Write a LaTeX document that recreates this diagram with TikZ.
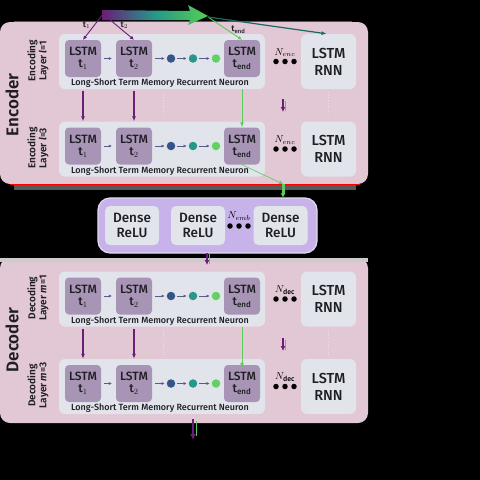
\documentclass[tikz,border=0pt]{standalone}
\usepackage{fontspec}
\setmainfont{Fira Sans}[UprightFont=* Medium, BoldFont=* SemiBold]
\usetikzlibrary{arrows.meta}
\definecolor{panelpink}{HTML}{E2C7D4}
\definecolor{layergray}{HTML}{E2E4EC}
\definecolor{lstmpurple}{HTML}{A895B6}
\definecolor{densepurple}{HTML}{C7B2EA}
\definecolor{denseedge}{HTML}{E4DAF6}
\definecolor{arrpurple}{HTML}{6B1E78}
\definecolor{arrgreen}{HTML}{5CCB5C}
\definecolor{dotblue}{HTML}{34558A}
\definecolor{dotteal}{HTML}{27978A}
\definecolor{dotgreen}{HTML}{62D062}
\definecolor{smallarr}{HTML}{5A5A8A}
\definecolor{txt}{HTML}{1E1E24}
\tikzset{
  panelbox/.style={fill=panelpink, rounded corners=10pt, inner sep=0pt},
  layerbox/.style={fill=layergray, rounded corners=6pt, inner sep=0pt, minimum width=206pt, minimum height=55pt},
  lstmbox/.style={fill=lstmpurple, rounded corners=4pt, inner sep=0pt, minimum width=36pt, minimum height=37pt, align=center, font=\fontsize{12}{13}\selectfont, text=txt},
  rnnbox/.style={fill=layergray, rounded corners=6pt, inner sep=0pt, minimum width=55pt, minimum height=55pt, align=center, font=\fontsize{14.5}{17}\selectfont, text=txt},
  densebox/.style={fill=layergray, rounded corners=5pt, inner sep=0pt, minimum width=54pt, minimum height=39pt, align=center, font=\fontsize{13.5}{15.5}\selectfont, text=txt},
  dotnode/.style={circle, inner sep=0pt, minimum size=8.5pt},
  blackdot/.style={circle, fill=black, inner sep=0pt, minimum size=5.5pt},
  tinyarr/.style={-{Latex[length=3pt,width=3pt]}, smallarr, line width=0.5pt},
  downpurple/.style={-{Latex[length=5pt,width=4pt]}, arrpurple, line width=1.2pt},
  downgreen/.style={-{Latex[length=5pt,width=4pt]}, arrgreen, line width=0.9pt},
  neurontxt/.style={font=\fontsize{9}{10}\selectfont, text=txt},
  layertxt/.style={rotate=90, align=center, font=\bfseries\fontsize{10}{11}\selectfont, text=txt},
  bigtxt/.style={rotate=90, font=\bfseries\fontsize{17}{19}\selectfont, text=txt},
}
\newcommand{\lstmrow}[4]{%
  \node[layerbox] (#1box) at (162,#2+3) {};
  \node[lstmbox] (#1a) at (83,#2) {LSTM\\[-1pt]t$_1$};
  \node[lstmbox] (#1b) at (134,#2) {LSTM\\[-1pt]t$_2$};
  \node[lstmbox] (#1e) at (242,#2) {LSTM\\[-1pt]t$_{\mathrm{end}}$};
  \node[dotnode, fill=dotblue] (#1d1) at (171,#2) {};
  \node[dotnode, fill=dotteal] (#1d2) at (193,#2) {};
  \node[dotnode, fill=dotgreen] (#1d3) at (216,#2) {};
  \draw[tinyarr] ([xshift=3pt]#1a.east) -- ([xshift=-4pt]#1b.west);
  \draw[tinyarr] ([xshift=3pt]#1b.east) -- ([xshift=-2pt]#1d1.west);
  \draw[tinyarr] ([xshift=2pt]#1d1.east) -- ([xshift=-2pt]#1d2.west);
  \draw[tinyarr] ([xshift=2pt]#1d2.east) -- ([xshift=-2pt]#1d3.west);
  \node[neurontxt] (#1lab) at (160,#2+25) {Long-Short Term Memory Recurrent Neuron};
  \node[rnnbox] (#1rnn) at (328.5,#2+3) {LSTM\\RNN};
  \node (#1n) at (285,#2-6) {#4};
  \node[blackdot] (#1k1) at (276,#2+3) {};
  \node[blackdot] (#1k2) at (285,#2+3) {};
  \node[blackdot] (#1k3) at (294,#2+3) {};
  \node[layertxt] (#1lt) at (38,#2+2) {#3};
}
\begin{document}
\begin{tikzpicture}[x=1pt,y=-1pt]
\fill[black] (0,0) rectangle (480,480);
\useasboundingbox (0,0) rectangle (480,480);

% panels
\node[panelbox, minimum width=368pt, minimum height=162pt] (enc) at (184,103) {};
\node[panelbox, minimum width=368pt, minimum height=165pt] (dec) at (184,340.5) {};
\draw[magenta, line width=1.2pt] (14,21.5) -- (352,21.5);
\fill[black!65] (14,185) rectangle (356,190);
\draw[red, line width=1.2pt] (10,184.5) -- (360,184.5);
\fill[black!20] (0,258) rectangle (368,262);
\node[bigtxt] (enct) at (12,105) {Encoder};
\node[bigtxt] (dect) at (12,340) {Decoder};

% encoder rows
\lstmrow{ea}{58.5}{Encoding\\Layer \textit{l}=1}{$N_{enc}$}
\lstmrow{eb}{146}{Encoding\\Layer \textit{l}=3}{$N_{enc}$}
% decoder rows
\lstmrow{da}{296}{Decoding\\Layer \textit{m}=1}{$N_{\mathrm{dec}}$}
\lstmrow{db}{383.5}{Decoding\\Layer \textit{m}=3}{$N_{\mathrm{dec}}$}

% faint dotted separators
\foreach \ya/\yb in {92/116, 330/356}{
  \draw[white!35!panelpink, dotted, line width=0.7pt] (163,\ya) -- (163,\yb);
  \draw[white!35!panelpink, dotted, line width=0.7pt] (328,\ya) -- (328,\yb);
}

% inter-layer arrows encoder
\draw[downpurple] (eaa.south |- ealab.south) -- (eba.north |- ebbox.north);
\draw[downpurple] (eab.south |- ealab.south) -- (ebb.north |- ebbox.north);
\draw[downgreen] ([yshift=2pt]eae.south |- ealab.south) -- (ebe.north);
\draw[-{Latex[length=5pt,width=5pt]}, arrpurple, line width=1.8pt] (283,99) coordinate (sa1) -- (283,112) coordinate (sa2);
\draw[arrgreen, line width=0.6pt] (285,101) -- (285,111);

% decoder arrows
\draw[downpurple] (daa.south |- dalab.south) -- (dba.north |- dbbox.north);
\draw[downpurple] (dab.south |- dalab.south) -- (dbb.north |- dbbox.north);
\draw[downgreen] ([yshift=2pt]dae.south |- dalab.south) -- ([yshift=-3pt]dbe.north);
\draw[-{Latex[length=5pt,width=5pt]}, arrpurple, line width=1.8pt] (283,338) coordinate (sb1) -- (283,351) coordinate (sb2);
\draw[arrgreen, line width=0.6pt] (285,340) -- (285,350);

% dense panel
\node[fill=densepurple, draw=denseedge, line width=1.2pt, rounded corners=12pt, minimum width=219pt, minimum height=55pt, inner sep=0pt] (dense) at (207.5,225.5) {};
\node[densebox] (dr1) at (132,225.5) {Dense\\ReLU};
\node[densebox] (dr2) at (198,225.5) {Dense\\ReLU};
\node[densebox] (dr3) at (280.5,225.5) {Dense\\ReLU};
\node (nemb) at (239,216) {$N_{emb}$};
\node[blackdot] (em1) at (230,226) {};
\node[blackdot] (em2) at (239,226) {};
\node[blackdot] (em3) at (248,226) {};

% encoder -> dense
\coordinate (gout) at (283,184);
\draw[-{Latex[length=4pt,width=4pt]}, arrgreen, line width=0.6pt] (ebe.south) -- (gout);
\draw[-{Latex[length=4pt,width=5pt]}, arrgreen, line width=3pt] (gout) -- (dense.north -| gout);
% dense -> decoder
\coordinate (dd1) at (207,253);
\coordinate (dd2) at (207,265);
\draw[-{Latex[length=5pt,width=5pt]}, arrpurple, line width=2pt] (dd1) -- (dd2);
\draw[arrgreen, line width=1pt] (209,254) -- (209,264);
% output
\coordinate (out1) at (193,419);
\coordinate (outend) at (193,440);
\draw[-{Latex[length=6pt,width=6pt]}, arrpurple, line width=2pt] (out1) -- (outend);
\draw[arrgreen, line width=1pt] (196,421) -- (196,436);

% top gradient arrow
\shade[left color=arrpurple, right color=arrgreen!90!green, middle color=dotteal]
  (102,10) -- (190,11) -- (188,5) -- (208,16) -- (188,25) -- (190,20) -- (102,20) -- cycle;
\coordinate (src) at (103,14);
\coordinate (srcend) at (208,17);
\draw[-{Latex[length=4pt,width=4pt]}, arrpurple, line width=0.9pt] (src) -- (eaa.north) node[pos=0.45, left=0pt, font=\bfseries\fontsize{8.5}{9}\selectfont, text=txt] {t$_1$};
\draw[-{Latex[length=4pt,width=4pt]}, arrpurple, line width=0.9pt] (src) -- (eab.north) node[pos=0.45, right=0pt, font=\bfseries\fontsize{8.5}{9}\selectfont, text=txt] {t$_2$};
\draw[-{Latex[length=4pt,width=4pt]}, arrgreen, line width=0.9pt] (srcend) -- (eae.north) node[pos=0.55, right=1pt, font=\bfseries\fontsize{8.5}{9}\selectfont, text=txt] {t$_{\mathrm{end}}$};
\draw[-{Latex[length=5pt,width=4pt]}, dotteal!70!black, line width=1.2pt] (srcend) -- ([xshift=-2pt]earnn.north);
\end{tikzpicture}
\end{document}
